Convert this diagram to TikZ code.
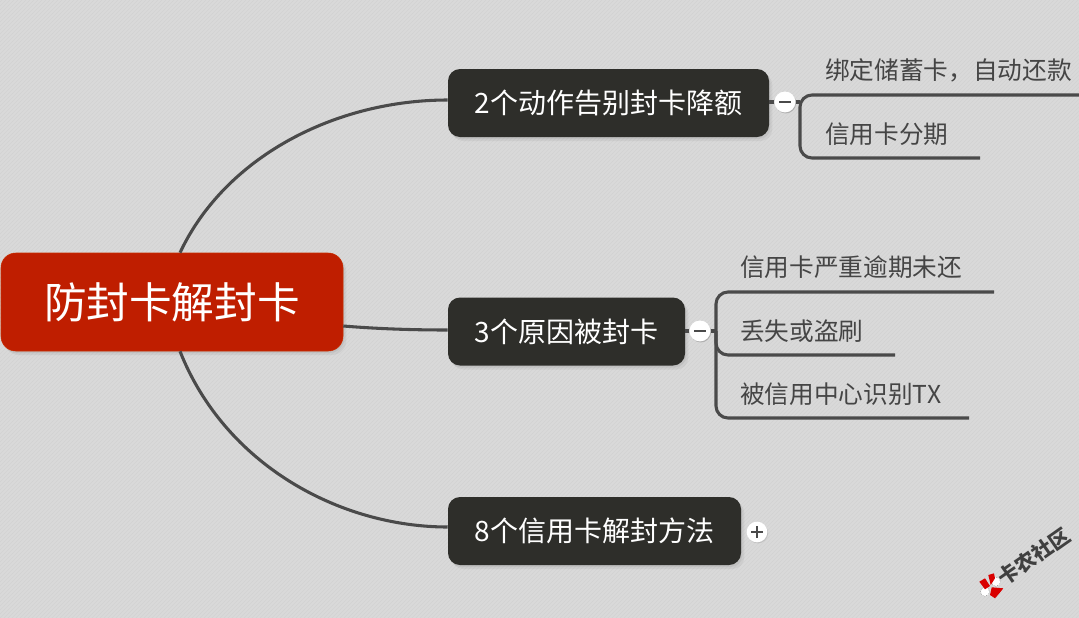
\documentclass[tikz,border=0pt]{standalone}
\usepackage{fontspec}
\usepackage{tikz}
\usetikzlibrary{calc,shadows,patterns}
\setmainfont{Noto Sans CJK SC}

\definecolor{paper}{HTML}{D9D9D9}
\definecolor{rootred}{HTML}{BF1E00}
\definecolor{branchgrey}{HTML}{2E2E2A}
\definecolor{linegrey}{HTML}{4A4A4A}
\definecolor{leafgrey}{HTML}{454545}

\tikzset{
    softshadow/.style={
        drop shadow={shadow xshift=1pt, shadow yshift=-1.5pt, opacity=0.14},
        drop shadow={shadow xshift=2.5pt, shadow yshift=-3pt, opacity=0.12}},
    rootbox/.style={rectangle, rounded corners=11pt, fill=rootred, draw=rootred!85!orange, line width=0.4pt,
        text=white, inner sep=0pt, minimum width=256.5pt, minimum height=73.5pt,
        font=\fontsize{32}{36}\selectfont, softshadow},
    branchbox/.style={rectangle, rounded corners=9pt, fill=branchgrey, text=white, inner sep=0pt,
        minimum height=51pt, font=\fontsize{21}{24}\selectfont, softshadow},
    leaftext/.style={anchor=west, inner sep=0pt, text=leafgrey, font=\fontsize{18.5}{22}\selectfont},
    togglebtn/.style={circle, fill=white, inner sep=0pt, minimum size=15.5pt,
        drop shadow={shadow xshift=0.6pt, shadow yshift=-0.8pt, opacity=0.25}},
    link/.style={draw=linegrey, line width=2.3pt},
    togglemark/.style={draw=linegrey, line width=1.8pt},
    markring/.style={draw=black!70, fill=white, line width=0.3pt, densely dotted}
}

\begin{document}
\begin{tikzpicture}[x=0.75pt, y=-0.75pt]
    \useasboundingbox (0,0) rectangle (1079,618);
    
    \fill[paper] (0,0) rectangle (1079,618);
    \fill[pattern=north east lines, pattern color=black, opacity=0.035] (0,0) rectangle (1079,618);
    
    \node[rootbox] (root) at (172,302) {防封卡解封卡};
    
    \node[branchbox, minimum width=240.75pt] (btna) at (608.5,103) {2个动作告别封卡降额};
    
    \node[branchbox, minimum width=177.75pt] (btnb) at (566.5,331.5) {3个原因被封卡};
    
    \node[branchbox, minimum width=219.75pt] (btnc) at (594.5,531) {8个信用卡解封方法};
    
    \node[togglebtn] (togglea) at (785,102) {};
    
    \node[togglebtn] (toggleb) at (700,331) {};
    
    \node[togglebtn] (togglec) at (757,532) {};
    
    \node[leaftext] (leafaa) at (825,70) {绑定储蓄卡，自动还款};
    
    \node[leaftext] (leafab) at (825,134) {信用卡分期};
    
    \node[leaftext] (leafba) at (740,267) {信用卡严重逾期未还};
    
    \node[leaftext] (leafbb) at (740,331) {丢失或盗刷};
    
    \node[leaftext] (leafbc) at (740,394) {被信用中心识别TX};
    
    
    
    \coordinate (spinea) at (800,102);
    \coordinate (spineb) at (716,331);
    \coordinate (endaa) at (1079,95);
    \coordinate (endab) at (980,158);
    \coordinate (endba) at (994,292);
    \coordinate (endbb) at (895,355);
    \coordinate (endbc) at (969,418);
    
    \draw[link] ($(root.north)+(8,0)$) .. controls (225,157) and (335,100) .. ($(btna.west)+(0,-3)$);
    \draw[link] (root.east |- 0,326) .. controls (380,329) and (415,330) .. ($(btnb.west)+(0,-1.5)$);
    \draw[link] ($(root.south)+(8,0)$) .. controls (225,465) and (340,527) .. ($(btnc.west)+(0,-4)$);
    
    \draw[link] (btna.east |- togglea) -- (togglea);
    \draw[link] (togglea) -- (spinea);
    \draw[link] (btnb.east |- toggleb) -- (toggleb);
    \draw[link] (toggleb) -- (spineb);
    
    \draw[link, rounded corners=9pt] (endaa) -- (spinea |- endaa) -- (spinea |- endab) -- (endab);
    \draw[link, rounded corners=9pt] (endba) -- (spineb |- endba) -- (spineb |- endbb) -- (endbb);
    \draw[link, rounded corners=9pt] (spineb) -- (spineb |- endbc) -- (endbc);
    
    % toggles go over the stubs
    \node[togglebtn] at (togglea) {};
    \node[togglebtn] at (toggleb) {};
    
    \draw[togglemark] ($(togglea)+(-6,0)$) -- ($(togglea)+(6,0)$);
    \draw[togglemark] ($(toggleb)+(-6,0)$) -- ($(toggleb)+(6,0)$);
    \draw[togglemark] ($(togglec)+(-6,0)$) -- ($(togglec)+(6,0)$);
    \draw[togglemark] ($(togglec)+(0,-6)$) -- ($(togglec)+(0,6)$);
    
    % watermark
    \node[rotate=35, inner sep=0pt, text=black!75, font=\fontsize{15.4}{18}\selectfont\bfseries] (mark) at (1034,556.5) {卡农社区};
    \draw[markring] (996,581.7) circle (4.5);
    \draw[markring] (985,591.7) circle (4.5);
    \fill[red!85!black] (979.3,581.7) -- (985,578.3) -- (990,586) -- (985,589.3) -- cycle;
    \fill[red!85!black] (988.3,575) -- (994,573.3) -- (995,578.3) -- (990.7,585) -- cycle;
    \fill[red!85!black] (991.7,587.3) -- (1003.3,588.3) -- (999.3,593.3) -- (995,598.3) -- (990,595) -- cycle;
\end{tikzpicture}
\end{document}
